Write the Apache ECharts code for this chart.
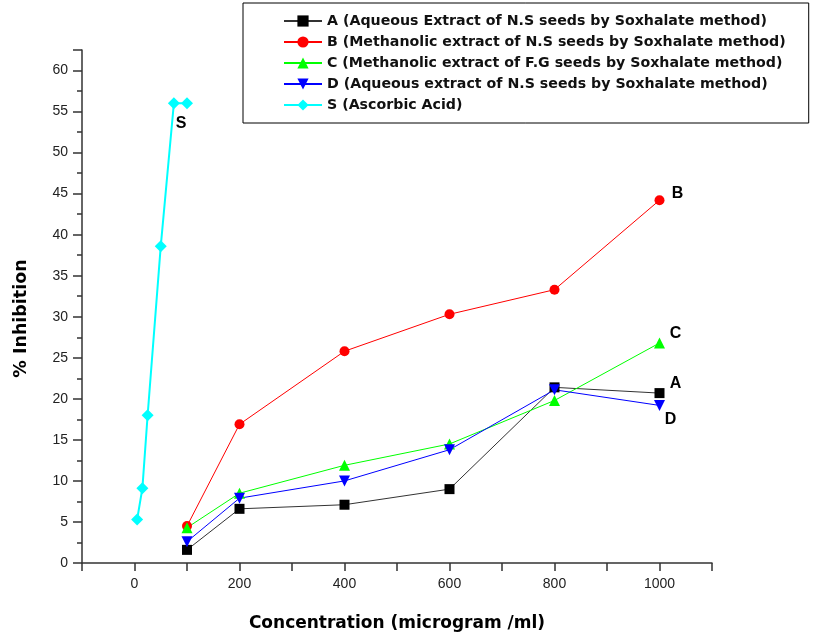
<!DOCTYPE html>
<html>
<head>
<meta charset="utf-8">
<script src="https://cdn.jsdelivr.net/npm/echarts@6/dist/echarts.min.js"></script>
<style>
  html, body { margin: 0; padding: 0; background: #fff; }
  #chart { width: 820px; height: 641px; }
</style>
</head>
<body>
<div id="chart"></div>
<script>
// concentrations (microgram/ml)
const concExtracts = [100, 200, 400, 600, 800, 1000]
const concAscorbic = [5, 15, 25, 50, 75, 100]

// % inhibition
const seriesA = [1.6, 6.6, 7.1, 9.0, 21.4, 20.7]
const seriesB = [4.5, 16.9, 25.8, 30.3, 33.3, 44.2]
const seriesC = [4.3, 8.5, 11.9, 14.5, 19.8, 26.8]
const seriesD = [2.6, 7.9, 10.0, 13.8, 21.1, 19.2]
const seriesS = [5.3, 9.1, 18.0, 38.6, 56.0, 56.0]

const legendNames = [
  'A (Aqueous Extract of N.S seeds by Soxhalate method)',
  'B (Methanolic extract of N.S seeds by Soxhalate method)',
  'C (Methanolic extract of F.G seeds by Soxhalate method)',
  'D (Aqueous extract of N.S seeds by Soxhalate method)',
  'S (Ascorbic Acid)',
]
const endLabels = ['A', 'B', 'C', 'D', 'S']

const FONT = 'Liberation Sans, Arial, sans-serif'
const WIDE = 'DejaVu Sans, sans-serif'

const chart = echarts.init(document.getElementById('chart'), null, { renderer: 'canvas' })

// pair x/y and put the letter tag on one point
const pairs = (xs, ys, tagIdx, tag, offset) =>
  xs.map((x, i) => {
    const item = { value: [x, ys[i]] }
    if (i === tagIdx) {
      item.label = {
        show: true,
        formatter: tag,
        position: 'inside',
        offset: offset,
        color: '#000',
        fontFamily: FONT,
        fontWeight: 'bold',
        fontSize: 16,
      }
    }
    return item
  })

const mkSeries = (name, color, symbol, size, width, data, extra) => Object.assign({
  name: name,
  type: 'line',
  data: data,
  symbol: symbol,
  symbolSize: size,
  color: color,
  lineStyle: { color: color, width: width },
  itemStyle: { color: color },
  emphasis: { disabled: true },
  animation: false,
  z: 3,
}, extra || {})

const downTri = 'path://M0,0 L10,0 L5,9 Z'

const option = {
  animation: false,
  backgroundColor: '#fff',
  grid: { left: 82, right: 108, top: 50, bottom: 78, containLabel: false },
  legend: {
    orient: 'vertical',
    left: 243,
    top: 3,
    padding: [11, 23, 11, 40],
    itemGap: 7,
    itemWidth: 38,
    itemHeight: 14,
    borderColor: '#000',
    borderWidth: 1,
    borderRadius: 0,
    textStyle: { fontFamily: WIDE, fontSize: 14.2, fontWeight: 'bold', color: '#111' },
    data: legendNames,
  },
  xAxis: {
    type: 'value',
    min: -100,
    max: 1100,
    interval: 100,
    name: 'Concentration (microgram /ml)',
    nameLocation: 'middle',
    nameGap: 52,
    nameTextStyle: { fontFamily: WIDE, fontSize: 17, fontWeight: 'bold', color: '#000' },
    axisLine: { onZero: false, lineStyle: { color: '#333', width: 1.5 } },
    axisTick: { length: 8, lineStyle: { color: '#333', width: 1.5 } },
    axisLabel: {
      fontFamily: FONT,
      fontSize: 14,
      color: '#222',
      margin: 14,
      formatter: (v) => (v >= 0 && v <= 1000 && v % 200 === 0 ? String(v) : ''),
    },
    splitLine: { show: false },
  },
  yAxis: {
    type: 'value',
    min: 0,
    max: 62.5,
    interval: 5,
    name: '% Inhibition',
    nameLocation: 'middle',
    nameGap: 52,
    nameTextStyle: {
      fontFamily: WIDE, fontSize: 17.5, fontWeight: 'bold', color: '#000',
      padding: [0, 24, 0, 0],
    },
    axisLine: { show: true, onZero: false, lineStyle: { color: '#333', width: 1.5 } },
    axisTick: { length: 9, lineStyle: { color: '#333', width: 1.5 } },
    minorTick: { show: true, splitNumber: 2, length: 5, lineStyle: { color: '#333', width: 1.5 } },
    axisLabel: {
      fontFamily: FONT,
      fontSize: 14,
      color: '#222',
      margin: 14,
      formatter: (v) => (v % 5 === 0 ? String(v) : ''),
    },
    splitLine: { show: false },
  },
  series: [
    mkSeries(legendNames[0], '#000000', 'rect', 10, 1,
      pairs(concExtracts, seriesA, 5, endLabels[0], [16, -10]),
      { lineStyle: { color: '#333', width: 1 } }),
    mkSeries(legendNames[1], '#ff0000', 'circle', 10, 1,
      pairs(concExtracts, seriesB, 5, endLabels[1], [18, -7])),
    mkSeries(legendNames[2], '#00ff00', 'triangle', 11, 1,
      pairs(concExtracts, seriesC, 5, endLabels[2], [16, -9])),
    mkSeries(legendNames[3], '#0000ff', downTri, 11, 1,
      pairs(concExtracts, seriesD, 5, endLabels[3], [11, 14])),
    mkSeries(legendNames[4], '#00ffff', 'diamond', 12, 2,
      pairs(concAscorbic, seriesS, 5, endLabels[4], [-6, 20])),
  ],
}

chart.setOption(option)
</script>
</body>
</html>
